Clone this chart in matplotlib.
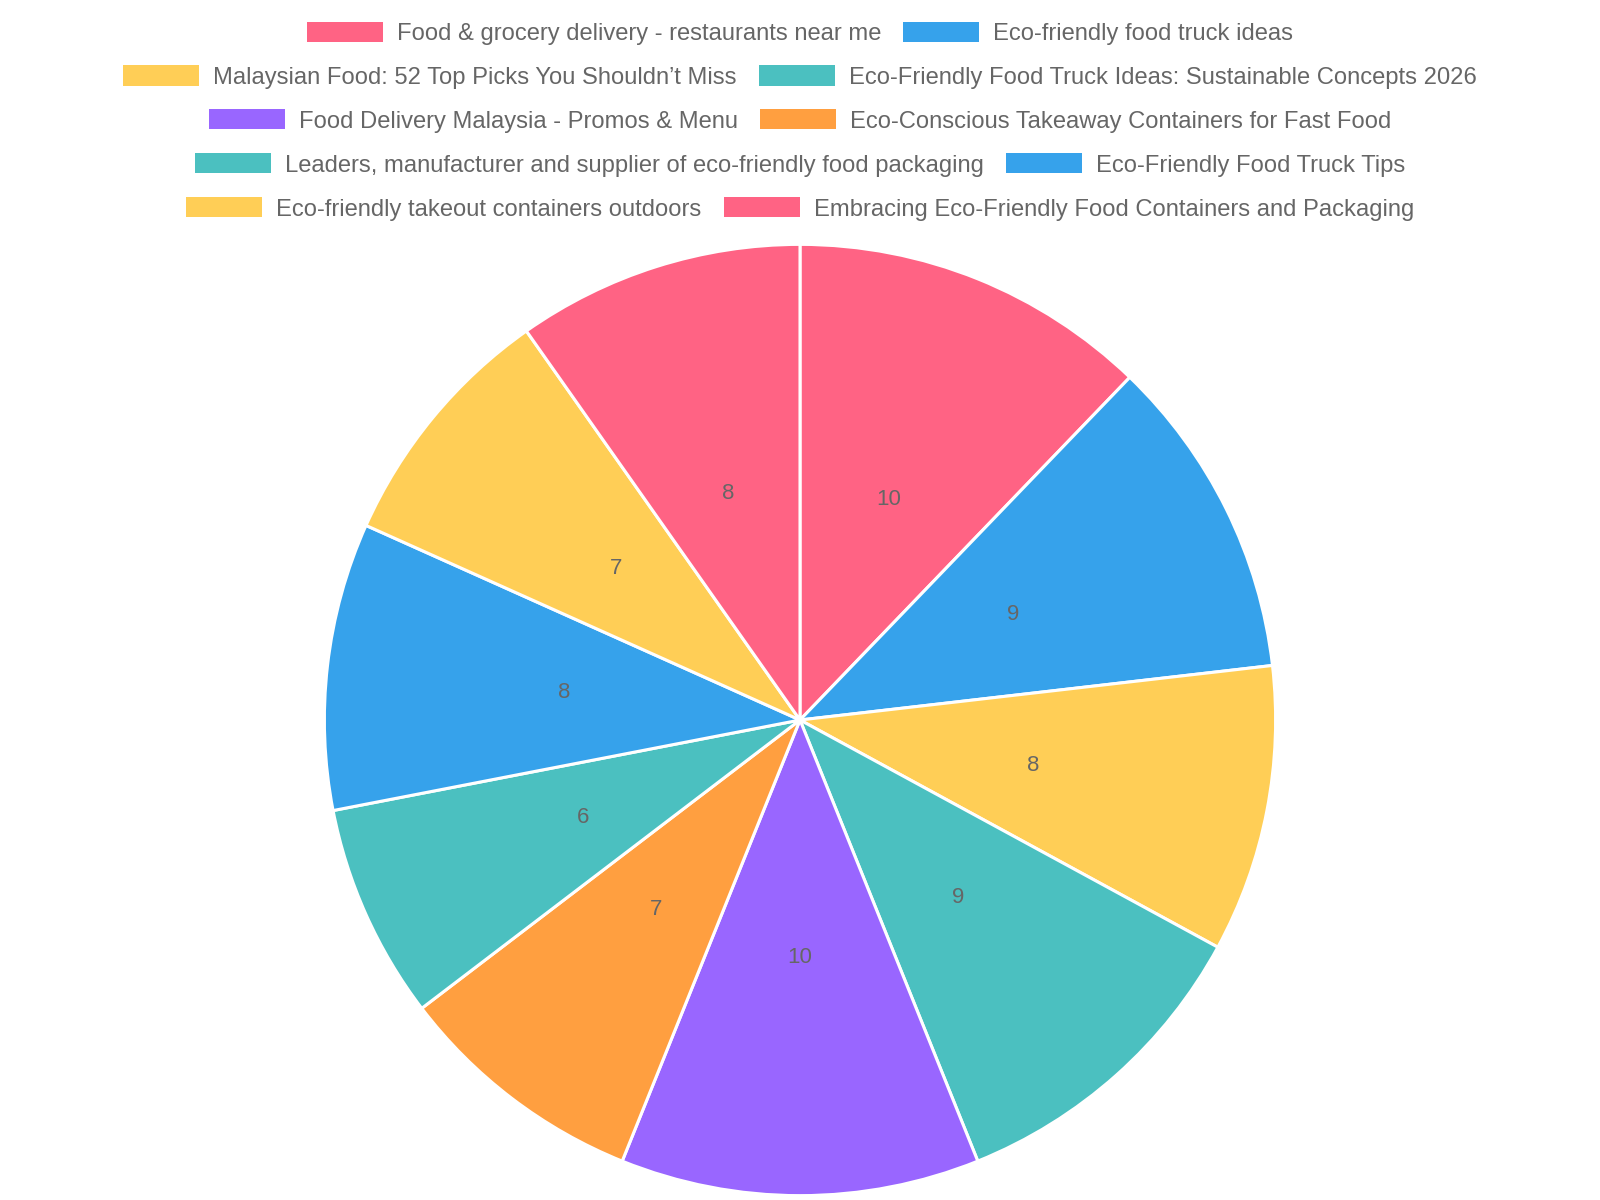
import matplotlib.pyplot as plt
from matplotlib.patches import Rectangle

plt.rcParams['font.family'] = ['Liberation Sans', 'DejaVu Sans']

labels = [
    'Food & grocery delivery - restaurants near me',
    'Eco-friendly food truck ideas',
    'Malaysian Food: 52 Top Picks You Shouldn\u2019t Miss',
    'Eco-Friendly Food Truck Ideas: Sustainable Concepts 2026',
    'Food Delivery Malaysia - Promos & Menu',
    'Eco-Conscious Takeaway Containers for Fast Food',
    'Leaders, manufacturer and supplier of eco-friendly food packaging',
    'Eco-Friendly Food Truck Tips',
    'Eco-friendly takeout containers outdoors',
    'Embracing Eco-Friendly Food Containers and Packaging',
]
values = [10, 9, 8, 9, 10, 7, 6, 8, 7, 8]
colors = ['#FF6384', '#36A2EB', '#FFCE56', '#4BC0C0', '#9966FF',
          '#FF9F40', '#4BC0C0', '#36A2EB', '#FFCE56', '#FF6384']
legend_rows = [[0, 1], [2, 3], [4, 5], [6, 7], [8, 9]]

W, H = 1600, 1200
fig = plt.figure(figsize=(16, 12), dpi=100)

# pie area: center (800, 720) px, radius ~476 px
cx, cy, r = 800, 720, 478
ax = fig.add_axes([(cx - r) / W, (H - cy - r) / H, 2 * r / W, 2 * r / H])
wedges, texts = ax.pie(values, colors=colors, startangle=90, counterclock=False,
                       radius=1, labels=[str(v) for v in values], labeldistance=0.5,
                       wedgeprops=dict(edgecolor='white', linewidth=2.2),
                       textprops=dict(fontsize=16, color='#666666'))
for t in texts:
    t.set_ha('center')
    t.set_va('center')
ax.set_xlim(-1.005, 1.005)
ax.set_ylim(-1.005, 1.005)
ax.set_aspect('equal')
ax.axis('off')

# legend, each row centred like chart.js
renderer = fig.canvas.get_renderer()
row_y = [31.6, 75.5, 119.4, 163.3, 207.1]
box_w, box_h, gap, item_gap = 76, 20, 14, 22
fs = 17.1
for y, row in zip(row_y, legend_rows):
    widths = []
    for i in row:
        t = fig.text(0, 0, labels[i], fontsize=fs)
        widths.append(t.get_window_extent(renderer).width)
        t.remove()
    total = sum(box_w + gap + w for w in widths) + item_gap * (len(row) - 1)
    x = cx - total / 2
    for i, w in zip(row, widths):
        fig.add_artist(Rectangle((x / W, (H - y - box_h / 2) / H), box_w / W, box_h / H,
                                 transform=fig.transFigure, facecolor=colors[i],
                                 edgecolor='none'))
        fig.text((x + box_w + gap) / W, (H - y) / H, labels[i], fontsize=fs,
                 color='#666666', ha='left', va='center_baseline')
        x += box_w + gap + w + item_gap

fig.savefig('out.png', dpi=100, facecolor='white')
